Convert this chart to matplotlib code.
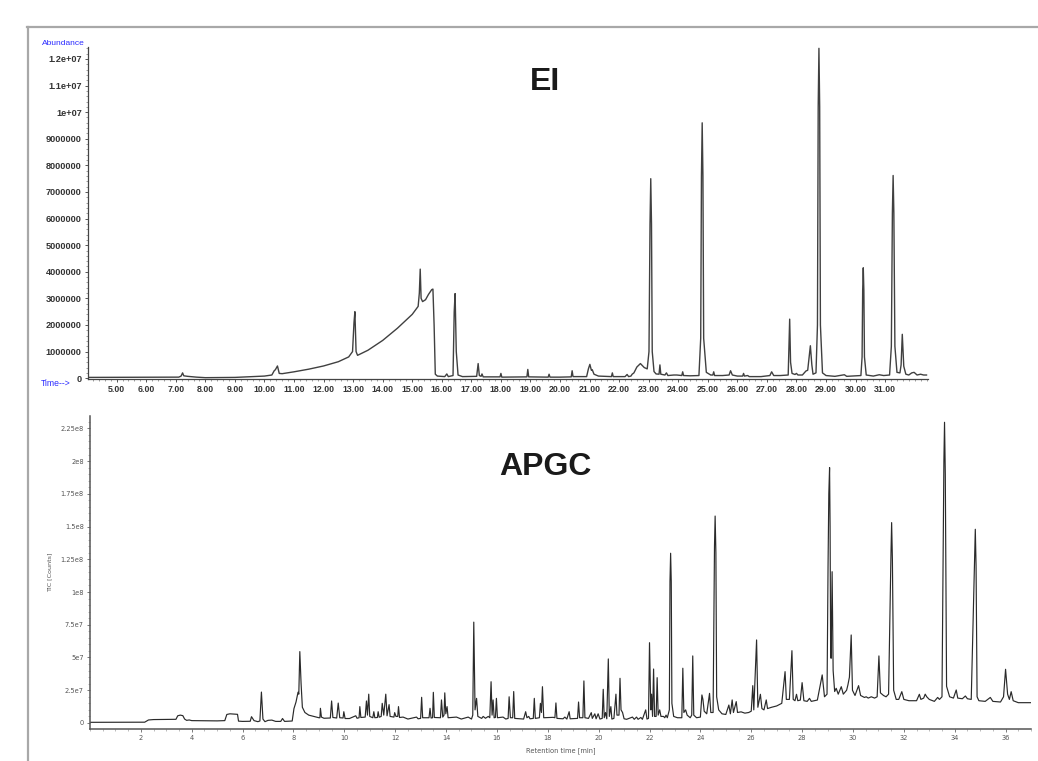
import matplotlib
matplotlib.use("Agg")
import matplotlib.pyplot as plt
from matplotlib.lines import Line2D
from matplotlib.ticker import MultipleLocator, FixedLocator, FixedFormatter
import numpy as np

# ---------------- data ----------------
# EI chromatogram: retention time [min] and abundance [millions]
ei_time = [4.03, 7.10, 7.18, 7.23, 7.27, 7.40, 7.70, 8.00, 9.00, 10.00, 10.25, 10.33, 10.37,
           10.44, 10.50, 10.60, 11.00, 11.50, 12.00, 12.50, 12.85, 12.98, 13.03, 13.06, 13.10,
           13.15, 13.50, 14.00, 14.50, 15.00, 15.20, 15.24, 15.27, 15.30, 15.35, 15.45, 15.55,
           15.66, 15.70, 15.74, 15.78, 15.85, 16.10, 16.17, 16.22, 16.38, 16.42, 16.45, 16.49,
           16.55, 16.70, 17.18, 17.23, 17.27, 17.33, 17.36, 17.40, 17.97, 18.00, 18.03, 18.88,
           18.91, 18.94, 19.60, 19.63, 19.66, 20.00, 20.38, 20.41, 20.44, 20.90, 20.96, 21.01,
           21.06, 21.09, 21.15, 21.30, 21.74, 21.77, 21.80, 22.20, 22.27, 22.32, 22.40, 22.44,
           22.50, 22.60, 22.72, 22.85, 22.95, 23.01, 23.045, 23.07, 23.095, 23.12, 23.18, 23.25,
           23.35, 23.38, 23.41, 23.55, 23.60, 23.65, 23.85, 23.95, 24.12, 24.15, 24.18, 24.40,
           24.70, 24.76, 24.785, 24.81, 24.835, 24.86, 24.95, 25.10, 25.17, 25.20, 25.23, 25.50,
           25.72, 25.77, 25.83, 26.00, 26.18, 26.21, 26.24, 26.35, 26.40, 26.80, 27.10, 27.16,
           27.23, 27.45, 27.72, 27.74, 27.77, 27.80, 27.85, 27.95, 28.00, 28.05, 28.20, 28.32,
           28.38, 28.44, 28.47, 28.52, 28.56, 28.66, 28.71, 28.735, 28.76, 28.785, 28.81, 28.88,
           29.00, 29.30, 29.62, 29.70, 30.18, 30.22, 30.24, 30.26, 30.28, 30.30, 30.36, 30.60,
           30.80, 30.95, 31.15, 31.21, 31.245, 31.27, 31.295, 31.33, 31.40, 31.50, 31.54, 31.58,
           31.63, 31.70, 31.80, 31.90, 31.98, 32.08, 32.20, 32.30, 32.40]
ei_abund_m = [0.03, 0.04, 0.08, 0.20, 0.09, 0.07, 0.04, 0.02, 0.03, 0.08, 0.12, 0.28, 0.32,
              0.46, 0.18, 0.17, 0.24, 0.34, 0.46, 0.62, 0.80, 1.00, 2.10, 2.50, 1.00,
              0.86, 1.05, 1.42, 1.88, 2.40, 2.70, 3.20, 4.10, 3.00, 2.88, 2.95, 3.15,
              3.33, 3.35, 2.00, 0.15, 0.08, 0.06, 0.16, 0.06, 0.10, 2.50, 3.18, 1.00,
              0.12, 0.06, 0.07, 0.55, 0.10, 0.07, 0.16, 0.05, 0.05, 0.18, 0.04, 0.05,
              0.33, 0.05, 0.04, 0.15, 0.04, 0.04, 0.05, 0.28, 0.06, 0.06, 0.35, 0.52,
              0.30, 0.32, 0.15, 0.08, 0.06, 0.20, 0.06, 0.06, 0.14, 0.06, 0.08, 0.15,
              0.20, 0.42, 0.55, 0.40, 0.35, 1.00, 5.80, 7.50, 5.80, 1.00, 0.25, 0.16,
              0.15, 0.50, 0.15, 0.12, 0.20, 0.10, 0.12, 0.12, 0.10, 0.24, 0.10, 0.09,
              0.10, 1.50, 7.60, 9.60, 7.60, 1.50, 0.22, 0.12, 0.12, 0.24, 0.10, 0.10,
              0.12, 0.28, 0.12, 0.08, 0.08, 0.18, 0.08, 0.10, 0.06, 0.06, 0.10, 0.24,
              0.10, 0.10, 0.12, 1.00, 2.22, 0.60, 0.18, 0.14, 0.18, 0.12, 0.12, 0.27,
              0.30, 0.90, 1.22, 0.50, 0.15, 0.20, 2.00, 10.20, 12.40, 10.20, 2.00, 0.20,
              0.10, 0.07, 0.13, 0.07, 0.10, 0.80, 3.30, 4.15, 3.30, 0.80, 0.12, 0.08,
              0.13, 0.10, 0.12, 1.20, 6.20, 7.62, 6.20, 1.20, 0.22, 0.20, 0.50, 1.65,
              0.45, 0.15, 0.12, 0.20, 0.22, 0.12, 0.15, 0.12, 0.12]

# APGC chromatogram: retention time [min] and TIC [millions of counts]
apgc_time = [0.00, 2.15, 2.30, 2.50, 3.00, 3.38, 3.45, 3.55, 3.65, 3.72, 3.80, 3.90, 4.00, 5.00,
             5.30, 5.38, 5.50, 5.80, 5.84, 6.00, 6.30, 6.35, 6.45, 6.60, 6.68, 6.74, 6.80, 6.88,
             7.00, 7.15, 7.30, 7.50, 7.57, 7.65, 7.95, 8.02, 8.10, 8.18, 8.21, 8.25, 8.30, 8.35,
             8.45, 8.60, 9.00, 9.04, 9.06, 9.10, 9.20, 9.45, 9.50, 9.55, 9.70, 9.76, 9.82, 9.95,
             9.98, 10.03, 10.20, 10.45, 10.50, 10.58, 10.61, 10.65, 10.82, 10.87, 10.91, 10.96,
             11.00, 11.12, 11.16, 11.20, 11.30, 11.33, 11.37, 11.45, 11.49, 11.55, 11.63, 11.68,
             11.76, 11.80, 11.95, 11.98, 12.03, 12.10, 12.13, 12.17, 12.31, 12.50, 12.84, 12.90,
             13.00, 13.04, 13.08, 13.33, 13.37, 13.41, 13.47, 13.50, 13.54, 13.78, 13.82, 13.87,
             13.92, 13.95, 13.99, 14.04, 14.08, 14.41, 14.60, 14.87, 15.00, 15.05, 15.09, 15.14,
             15.20, 15.25, 15.40, 15.46, 15.55, 15.66, 15.72, 15.77, 15.81, 15.85, 15.89, 15.94,
             15.98, 16.02, 16.24, 16.35, 16.44, 16.48, 16.53, 16.62, 16.66, 16.70, 17.05, 17.13,
             17.18, 17.25, 17.30, 17.43, 17.47, 17.51, 17.67, 17.71, 17.75, 17.79, 17.84, 18.21,
             18.28, 18.32, 18.36, 18.60, 18.67, 18.75, 18.84, 18.88, 19.17, 19.21, 19.25, 19.38,
             19.42, 19.46, 19.60, 19.71, 19.75, 19.85, 19.90, 19.98, 20.05, 20.14, 20.18, 20.22,
             20.27, 20.32, 20.38, 20.42, 20.48, 20.52, 20.60, 20.68, 20.72, 20.80, 20.84, 20.88,
             20.94, 21.00, 21.10, 21.33, 21.40, 21.49, 21.55, 21.66, 21.72, 21.85, 21.90, 21.96,
             22.00, 22.05, 22.08, 22.12, 22.16, 22.20, 22.26, 22.30, 22.34, 22.40, 22.45, 22.55,
             22.60, 22.65, 22.70, 22.78, 22.805, 22.83, 22.855, 22.88, 22.95, 23.10, 23.27, 23.31,
             23.35, 23.42, 23.48, 23.60, 23.66, 23.70, 23.74, 23.85, 24.00, 24.06, 24.10, 24.15,
             24.25, 24.36, 24.41, 24.50, 24.555, 24.58, 24.61, 24.64, 24.72, 24.85, 25.00, 25.12,
             25.18, 25.25, 25.30, 25.41, 25.46, 25.60, 25.75, 25.90, 26.00, 26.06, 26.10, 26.21,
             26.26, 26.36, 26.42, 26.50, 26.59, 26.64, 26.80, 27.00, 27.20, 27.33, 27.38, 27.50,
             27.60, 27.65, 27.72, 27.78, 27.83, 27.93, 28.00, 28.07, 28.20, 28.29, 28.36, 28.60,
             28.79, 28.88, 28.98, 29.02, 29.05, 29.08, 29.10, 29.12, 29.14, 29.18, 29.22, 29.28,
             29.34, 29.42, 29.54, 29.62, 29.75, 29.80, 29.86, 29.93, 29.98, 30.08, 30.22, 30.30,
             30.45, 30.52, 30.60, 30.72, 30.85, 30.95, 31.02, 31.08, 31.20, 31.30, 31.40, 31.495,
             31.52, 31.55, 31.60, 31.70, 31.80, 31.92, 32.00, 32.20, 32.50, 32.61, 32.67, 32.78,
             32.84, 32.90, 33.00, 33.20, 33.33, 33.40, 33.50, 33.575, 33.60, 33.63, 33.68, 33.80,
             33.95, 34.06, 34.12, 34.30, 34.42, 34.50, 34.65, 34.785, 34.81, 34.84, 34.88, 34.95,
             35.20, 35.40, 35.50, 35.80, 35.92, 36.00, 36.08, 36.15, 36.22, 36.30, 36.50, 36.80,
             37.00]
apgc_tic_m = [0.5, 0.6, 2.3, 2.6, 2.7, 2.8, 5.5, 6.0, 5.6, 3.0, 2.0, 2.3, 1.8, 1.6,
              1.8, 6.5, 7.0, 6.6, 1.4, 1.2, 1.3, 4.8, 1.8, 1.0, 1.5, 23.6, 3.0, 1.0,
              2.0, 2.2, 1.2, 1.2, 3.4, 1.2, 1.5, 11.0, 16.0, 23.5, 22.0, 54.5, 30.0, 12.0,
              8.0, 6.0, 4.0, 4.0, 11.2, 4.5, 3.6, 3.8, 16.8, 4.2, 3.8, 15.2, 4.0, 3.8,
              8.6, 3.4, 3.4, 5.5, 3.6, 4.0, 12.5, 4.2, 4.5, 16.8, 6.0, 22.0,
              5.0, 4.0, 8.6, 4.0, 4.2, 8.6, 4.4, 5.0, 15.0, 6.0, 22.0, 5.5,
              14.0, 5.0, 4.5, 7.9, 5.0, 5.0, 12.5, 4.2, 4.5, 3.0, 4.5, 3.2,
              3.5, 19.6, 4.0, 4.0, 11.2, 3.8, 4.0, 23.4, 4.2, 4.0, 17.6, 4.5,
              6.0, 23.0, 7.0, 12.5, 4.0, 4.5, 3.0, 4.5, 3.0, 6.0, 77.0, 10.0,
              18.8, 5.0, 3.5, 5.0, 3.6, 5.0, 4.0, 31.5, 6.0, 17.6, 4.0, 4.2,
              18.8, 4.0, 4.5, 3.0, 3.5, 20.0, 4.0, 4.0, 24.0, 3.5, 3.0, 8.6,
              4.0, 5.0, 3.2, 3.5, 18.8, 3.5, 4.0, 15.0, 8.0, 27.7, 4.0, 4.3,
              4.0, 15.3, 3.5, 3.2, 4.5, 3.0, 8.6, 3.2, 3.5, 16.0, 4.0, 4.0,
              32.1, 4.0, 3.5, 7.9, 3.5, 7.0, 3.2, 7.0, 3.0, 3.5, 25.7, 4.0,
              8.0, 3.2, 48.9, 5.0, 12.5, 3.0, 3.5, 22.0, 6.0, 6.0, 34.1, 10.0,
              8.0, 3.2, 2.8, 4.5, 2.8, 4.5, 2.8, 4.2, 2.8, 10.0, 3.0, 3.5,
              61.3, 10.0, 22.0, 5.0, 41.2, 5.0, 5.0, 34.6, 6.0, 10.0, 5.0, 5.0,
              4.0, 6.0, 4.0, 10.0, 108.0, 129.6, 108.0, 15.0, 5.0, 4.0, 4.0, 41.8,
              8.0, 10.0, 6.0, 4.0, 6.0, 51.2, 6.0, 4.0, 4.5, 21.4, 18.0, 9.0,
              7.0, 22.6, 8.0, 8.0, 135.0, 158.0, 130.0, 20.0, 10.0, 7.0, 6.5, 13.7,
              7.0, 17.6, 8.0, 16.3, 8.0, 8.5, 7.5, 8.0, 9.0, 28.5, 10.0, 63.4,
              12.0, 21.9, 11.0, 10.0, 17.6, 11.0, 12.0, 13.0, 15.0, 39.2, 18.0, 18.0,
              55.2, 18.0, 17.0, 21.9, 17.0, 17.5, 30.8, 17.0, 16.5, 18.8, 16.5, 17.5,
              36.7, 20.0, 22.0, 120.0, 175.0, 195.0, 150.0, 60.0, 49.4, 115.5, 40.0, 24.0,
              26.5, 22.0, 27.7, 22.0, 25.0, 29.0, 35.0, 67.2, 25.0, 21.0, 28.5, 21.0,
              19.5, 20.0, 19.0, 20.0, 19.0, 20.0, 51.2, 23.0, 21.0, 20.0, 22.0, 130.0,
              153.0, 125.0, 25.0, 18.0, 18.0, 23.9, 18.0, 17.0, 17.0, 21.9, 18.0, 19.0,
              22.0, 20.0, 18.0, 16.5, 19.5, 18.0, 20.0, 200.0, 229.6, 190.0, 28.0, 20.0,
              19.0, 25.2, 19.0, 18.5, 20.6, 18.5, 18.0, 125.0, 147.9, 120.0, 20.0, 17.0,
              16.5, 19.5, 16.5, 16.0, 20.0, 41.0, 22.0, 18.0, 23.9, 17.0, 15.5, 15.5,
              15.5]

ei_xticks = [5, 6, 7, 8, 9, 10, 11, 12, 13, 14, 15, 16, 17, 18, 19, 20, 21, 22, 23, 24, 25,
             26, 27, 28, 29, 30, 31]
ei_xticklabels = ["%.2f" % v for v in ei_xticks]
ei_yticks = [0, 1e6, 2e6, 3e6, 4e6, 5e6, 6e6, 7e6, 8e6, 9e6, 1e7, 1.1e7, 1.2e7]
ei_yticklabels = ["0", "1000000", "2000000", "3000000", "4000000", "5000000", "6000000",
                  "7000000", "8000000", "9000000", "1e+07", "1.1e+07", "1.2e+07"]
apgc_xticks = [2, 4, 6, 8, 10, 12, 14, 16, 18, 20, 22, 24, 26, 28, 30, 32, 34, 36]
apgc_yticks = [0, 2.5e7, 5e7, 7.5e7, 1e8, 1.25e8, 1.5e8, 1.75e8, 2e8, 2.25e8]
apgc_yticklabels = ["0", "2.5e7", "5e7", "7.5e7", "1e8", "1.25e8", "1.5e8", "1.75e8",
                    "2e8", "2.25e8"]

# ---------------- figure ----------------
W, H = 1038, 761
fig = plt.figure(figsize=(W / 100, H / 100), dpi=100)
fig.patch.set_facecolor("white")


def rect(l, t, r, b):
    return [l / W, 1 - b / H, (r - l) / W, (b - t) / H]


def fx(x):
    return x / W


def fy(y):
    return 1 - y / H


# gray frame lines
frame_kw = dict(transform=fig.transFigure, color="#a8a8a8", lw=1.6)
fig.add_artist(Line2D([fx(27), 1.0], [fy(27), fy(27)], **frame_kw))
fig.add_artist(Line2D([fx(27.5), fx(27.5)], [fy(27), 0.0], **frame_kw))

# ---------- EI (top) ----------
ax1 = fig.add_axes(rect(88, 47, 928, 379))
ax1.plot(ei_time, np.array(ei_abund_m) * 1e6, color="#404040", lw=1.0)
ax1.set_xlim(4.03, 32.45)
ax1.set_ylim(-0.03e6, 12.45e6)
for s in ("top", "right"):
    ax1.spines[s].set_visible(False)
for s in ("left", "bottom"):
    ax1.spines[s].set_color("#444444")
    ax1.spines[s].set_linewidth(0.9)
ax1.xaxis.set_major_locator(FixedLocator(ei_xticks))
ax1.xaxis.set_major_formatter(FixedFormatter(ei_xticklabels))
ax1.xaxis.set_minor_locator(MultipleLocator(0.2))
ax1.yaxis.set_major_locator(FixedLocator(ei_yticks))
ax1.yaxis.set_major_formatter(FixedFormatter(ei_yticklabels))
ax1.yaxis.set_minor_locator(MultipleLocator(2e5))
ax1.tick_params(axis="both", which="major", direction="out", length=2.5, width=0.7,
                color="#555555", pad=2)
ax1.tick_params(axis="both", which="minor", direction="out", length=1.3, width=0.5,
                color="#777777")
for lab in ax1.get_xticklabels():
    lab.set_fontfamily("Liberation Sans")
    lab.set_fontweight("bold")
    lab.set_fontsize(6.3)
    lab.set_color("#333333")
for lab in ax1.get_yticklabels():
    lab.set_fontfamily("Liberation Sans")
    lab.set_fontweight("bold")
    lab.set_fontsize(6.6)
    lab.set_color("#333333")

fig.text(fx(63), fy(43.5), "Abundance", color="#2a2aff", fontsize=6.0,
         family="Liberation Sans", ha="center", va="center")
fig.text(fx(56), fy(383), "Time-->", color="#2a2aff", fontsize=6.2,
         family="Liberation Sans", ha="center", va="center")
fig.text(fx(545), fy(82), "EI", fontsize=23, fontweight="bold", color="#1a1a1a",
         family="Liberation Sans", ha="center", va="center")

# ---------- APGC (bottom) ----------
ax2 = fig.add_axes(rect(90, 416, 1031, 729))
ax2.plot(apgc_time, np.array(apgc_tic_m) * 1e6, color="#2a2a2a", lw=0.85)
ax2.set_xlim(0, 37)
ax2.set_ylim(-4.6e6, 2.344e8)
for s in ("top", "right"):
    ax2.spines[s].set_visible(False)
for s in ("left", "bottom"):
    ax2.spines[s].set_color("#555555")
    ax2.spines[s].set_linewidth(1.1)
ax2.xaxis.set_major_locator(FixedLocator(apgc_xticks))
ax2.xaxis.set_minor_locator(MultipleLocator(0.5))
ax2.yaxis.set_major_locator(FixedLocator(apgc_yticks))
ax2.yaxis.set_major_formatter(FixedFormatter(apgc_yticklabels))
ax2.yaxis.set_minor_locator(MultipleLocator(5e6))
ax2.tick_params(axis="both", which="major", direction="out", length=2.5, width=0.6,
                color="#666666", labelsize=4.8, labelcolor="#555555", pad=2)
ax2.tick_params(axis="both", which="minor", direction="out", length=1.2, width=0.4,
                color="#888888")
ax2.set_xlabel("Retention time [min]", fontsize=4.8, color="#555555", labelpad=4)
ax2.set_ylabel("TIC [Counts]", fontsize=4.6, color="#555555", labelpad=6)
fig.text(fx(545), fy(467), "APGC", fontsize=23, fontweight="bold", color="#1a1a1a",
         family="Liberation Sans", ha="center", va="center")

fig.savefig("out.png", dpi=100, facecolor="white")
